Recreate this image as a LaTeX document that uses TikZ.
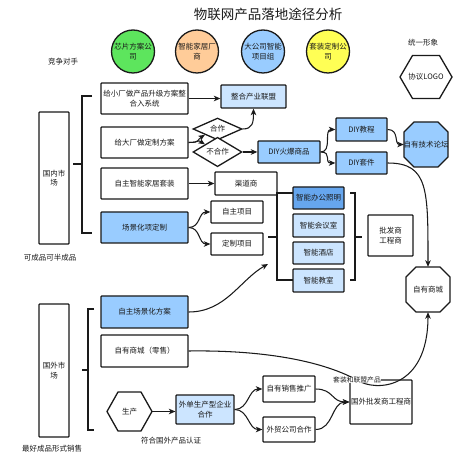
\documentclass[tikz,border=0pt]{standalone}
\usepackage{fontspec}
\setmainfont{Noto Sans CJK SC}
\usetikzlibrary{shapes.geometric,arrows.meta}
\definecolor{ink}{HTML}{1A1A1A}
\definecolor{cgreen}{HTML}{5DE55D}
\definecolor{corange}{HTML}{FFCC99}
\definecolor{cyellow}{HTML}{FFFF55}
\definecolor{lblue}{HTML}{CCE5FF}
\definecolor{mblue}{HTML}{99CCFF}
\definecolor{dblue}{HTML}{66A6EE}
\begin{document}
\begin{tikzpicture}[x=1pt,y=-1pt,font=\fontsize{7.5}{9.5}\selectfont,text=ink,
  bx/.style={draw=ink, line width=1.3pt, align=center, inner sep=0.5pt, rounded corners=0.8pt},
  shp/.style={draw=ink, line width=1.3pt},
  circ/.style={circle, draw=ink, line width=1.3pt, minimum size=43pt, inner sep=0pt, align=center},
  dia/.style={diamond, draw=ink, line width=1.3pt, inner sep=0pt, minimum width=49pt, minimum height=19pt, fill=white},
  ghost/.style={inner sep=0pt, align=center},
  txt/.style={inner sep=0.5pt},
  ln/.style={draw=ink, line width=1.05pt},
  arr/.style={ln, -{Stealth[length=6.5pt,width=5.5pt,inset=1.8pt]}}]
\useasboundingbox (0,0) rectangle (474,462);
\fill[white] (0,0) rectangle (474,462);

% title and free texts
\node[font=\fontsize{13.5}{15}\selectfont] (title) at (268,14) {物联网产品落地途径分析};
\node[txt] (jz) at (63,62) {竞争对手};
\node[txt] (ty) at (423,43) {统一形象};
\node[txt] (kc) at (50,258) {可成品可半成品};
\node[txt] (zh2) at (52,449) {最好成品形式销售};
\node[txt] (fh) at (171,441) {符合国外产品认证};

% competitor circles
\node[circ, fill=cgreen] (c1) at (133,51.5) {芯片方案公\\司};
\node[circ, fill=corange] (c2) at (197,51.5) {智能家居厂\\商};
\node[circ, fill=mblue] (c3) at (263,51.5) {大公司智能\\项目组};
\node[circ, fill=cyellow] (c4) at (328,51.5) {套装定制公\\司};

% hexagon LOGO
\draw[shp, fill=white] (400,77) -- (412.5,55.5) -- (439.5,55.5) -- (452,77) -- (439.5,98.5) -- (412.5,98.5) -- cycle;
\node[ghost, minimum width=52pt, minimum height=43pt] (logo) at (426,77) {协议LOGO};

% octagon forum
\draw[shp, fill=mblue] (414,122) -- (438,122) -- (448,132) -- (448,157) -- (438,167) -- (414,167) -- (404,157) -- (404,132) -- cycle;
\node[ghost, minimum width=44pt, minimum height=45pt] (lt) at (426,144.5) {\makebox[0pt]{自有技术论坛}};

% octagon shop
\draw[shp, fill=white] (416,267) -- (440,267) -- (450,277) -- (450,302) -- (440,312) -- (416,312) -- (406,302) -- (406,277) -- cycle;
\node[ghost, minimum width=44pt, minimum height=45pt] (shop) at (428,289.5) {自有商城};

% production hexagon
\draw[shp, fill=white] (107,411.5) -- (118,392) -- (141,392) -- (152,411.5) -- (141,431) -- (118,431) -- cycle;
\node[ghost, minimum width=45pt, minimum height=39pt] (sc) at (129.5,411.5) {生产};

% domestic
\node[bx, minimum width=30pt, minimum height=132pt] (gn) at (54,178) {国内市\\场};
\node[bx, minimum width=87pt, minimum height=31pt] (b1) at (144.5,98.5) {给小厂做产品升级方案整\\合入系统};
\node[bx, minimum width=87pt, minimum height=31pt] (b2) at (144.5,142.5) {给大厂做定制方案};
\node[bx, minimum width=87pt, minimum height=31pt] (b3) at (144.5,183.5) {自主智能家居套装};
\node[bx, minimum width=87pt, minimum height=31pt, fill=mblue] (b4) at (144.5,227.5) {场景化项定制};

\node[bx, minimum width=65pt, minimum height=23pt, fill=lblue] (zh) at (253.5,96.5) {整合产业联盟};
\node[dia] (hz) at (217.5,129) {合作};
\node[dia] (bhz) at (217.5,152) {不合作};
\node[bx, minimum width=62pt, minimum height=22pt, fill=mblue] (diy) at (289,152) {DIY火爆商品};
\node[bx, minimum width=51pt, minimum height=23pt, fill=mblue] (jc) at (361.5,129.5) {DIY教程};
\node[bx, minimum width=51pt, minimum height=22pt, fill=mblue] (tj) at (361.5,163) {DIY套件};

\node[bx, minimum width=62pt, minimum height=23pt] (qd) at (246,183.5) {渠道商};
\node[bx, minimum width=52pt, minimum height=22pt] (zx) at (237,212) {自主项目};
\node[bx, minimum width=52pt, minimum height=22pt] (dx) at (237,244) {定制项目};

\node[bx, minimum width=51pt, minimum height=22pt, fill=dblue] (s1) at (318.5,198) {智能办公照明};
\node[bx, minimum width=51pt, minimum height=23pt, fill=lblue] (s2) at (318.5,225.5) {智能会议室};
\node[bx, minimum width=51pt, minimum height=22pt, fill=lblue] (s3) at (318.5,253) {智能酒店};
\node[bx, minimum width=51pt, minimum height=23pt, fill=lblue] (s4) at (318.5,280.5) {智能教室};
\node[bx, minimum width=45pt, minimum height=41pt] (pf) at (390.5,235.5) {批发商\\工程商};

% overseas
\node[bx, minimum width=30pt, minimum height=133pt] (gw) at (54,370.5) {国外市\\场};
\node[bx, minimum width=87pt, minimum height=32pt, fill=mblue] (zc) at (144.5,312) {自主场景化方案};
\node[bx, minimum width=87pt, minimum height=32pt] (ls) at (144.5,351) {自有商城（零售）};
\node[bx, minimum width=58pt, minimum height=29pt, fill=lblue] (wd) at (205,409.5) {外单生产型企业\\合作};
\node[bx, minimum width=52pt, minimum height=26pt] (xs) at (289,389) {自有销售推广};
\node[bx, minimum width=52pt, minimum height=25pt] (wm) at (289,429.5) {外贸公司合作};
\node[bx, minimum width=62pt, minimum height=44pt] (gp) at (381,402) {国外批发商工程商};

% brackets
\draw[ln] (92,96) -- (82,96) -- (82,233) -- (92,233);
\draw[ln] (73,164) -- (82,164);
\draw[ln] (94,309) -- (88,309) -- (88,430) -- (94,430);
\draw[ln] (82,370) -- (88,370);
\draw[ln] (293,193) -- (277,193) -- (277,280) -- (293,280);
\draw[ln] (268,237) -- (277,237);
\draw[ln] (350,193) -- (355,193) -- (355,280) -- (350,280);
\draw[ln] (355,237) -- (362,237);

% connectors
\draw[arr] (b1.east) -- (zh.west |- b1.east);
\draw[arr] (b2.east) .. controls +(12,0) and +(-8,5) .. (hz.south west);
\draw[arr] (b2.east) .. controls +(12,0) and +(-8,-5) .. (bhz.north west);
\draw[arr] (hz.east) .. controls +(10,0) and +(0,14) .. (zh.south);
\draw[arr] (bhz.east) -- (diy.west);
\draw[arr] (diy.east) .. controls +(12,0) and +(-12,0) .. (jc.west);
\draw[arr] (diy.east) .. controls +(12,0) and +(-12,0) .. (tj.west);
\draw[arr] (jc.east) .. controls +(12,0) and +(-10,0) .. (lt.west);
\draw[arr] (tj.east) .. controls +(41,0) and +(0,-77) .. (shop.north);
\draw[arr] (b3.east) -- (qd.west);
\draw[arr] (b4.east) .. controls +(12,0) and +(-12,0) .. (zx.west);
\draw[arr] (b4.east) .. controls +(12,0) and +(-12,0) .. (dx.west);
\coordinate (bt) at (268,264);
\draw[arr] (zc.east) .. controls +(37,0) and +(-28,16) .. (bt);
\coordinate (lblc) at (357,380);
\draw[arr] (ls.east) .. controls +(72,-1) and +(-37,-20) .. (lblc) .. controls +(18,12) and +(0,78) .. (shop.south);
\node[fill=white, inner sep=0.3pt, font=\fontsize{6.8}{8}\selectfont] (lbl) at (lblc) {套装和联盟产品};
\draw[arr] (sc.east) -- (wd.west |- sc.east);
\draw[arr] (wd.east) .. controls +(14,0) and +(-14,0) .. (xs.west);
\draw[arr] (wd.east) .. controls +(14,0) and +(-14,0) .. (wm.west);
\draw[arr] (xs.east) .. controls +(18,0) and +(-18,0) .. (gp.west);
\draw[arr] (wm.east) .. controls +(18,0) and +(-18,0) .. (gp.west);
\end{tikzpicture}
\end{document}
